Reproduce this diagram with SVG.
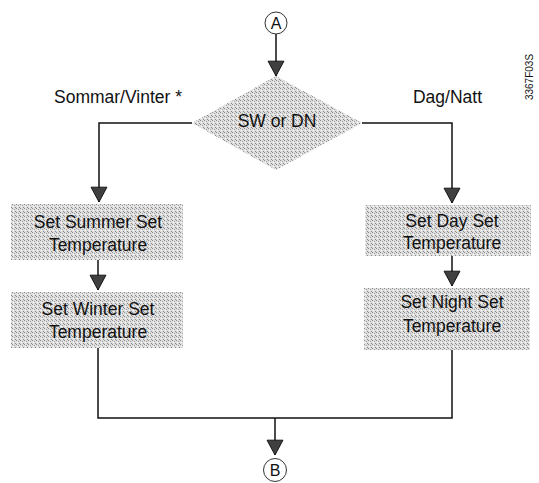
<svg xmlns="http://www.w3.org/2000/svg" width="539" height="483" viewBox="0 0 539 483">
  <defs>
    <pattern id="stipple" width="4" height="4" patternUnits="userSpaceOnUse">
      <rect width="4" height="4" fill="#dedede"/>
      <rect x="0" y="0" width="1" height="1" fill="#8e8e8e"/>
      <rect x="2" y="1" width="1" height="1" fill="#a0a0a0"/>
      <rect x="1" y="2" width="1" height="1" fill="#ffffff"/>
      <rect x="3" y="3" width="1" height="1" fill="#888888"/>
    </pattern>
    <marker id="arrow" markerUnits="userSpaceOnUse" markerWidth="17" markerHeight="18" viewBox="-1 -8.5 16 17" refX="14" refY="0" orient="auto">
      <path d="M0,-7.5 L14,0 L0,7.5 Z" fill="#404040" stroke="#111" stroke-width="0.9"/>
    </marker>
  </defs>
  <style>
    .fill { fill: url(#stipple); stroke: none; }
    .lbl { font-family: "Liberation Sans", Arial, sans-serif; font-size: 17.5px; fill: #111; text-anchor: middle; }
    .side { font-family: "Liberation Sans", Arial, sans-serif; font-size: 17.5px; fill: #111; }
    .conn { fill: none; stroke: #111; stroke-width: 1.5; }
    .circ { fill: #fff; stroke: #333; stroke-width: 1; }
    .circ-t { font-family: "Liberation Sans", Arial, sans-serif; font-size: 16px; fill: #111; text-anchor: middle; }
  </style>
  <rect width="539" height="483" fill="#fff"/>

  <g id="connectors">
    <path class="conn" d="M276,34 V76" marker-end="url(#arrow)"/>
    <path class="conn" d="M192,123 H99 V202" marker-end="url(#arrow)"/>
    <path class="conn" d="M362,123 H452 V203" marker-end="url(#arrow)"/>
    <path class="conn" d="M98,260 V290" marker-end="url(#arrow)"/>
    <path class="conn" d="M452,256 V286" marker-end="url(#arrow)"/>
    <path class="conn" d="M98,348 V418 H452 V350"/>
    <path class="conn" d="M275,418 V455" marker-end="url(#arrow)"/>
  </g>

  <g id="connector-A">
    <circle class="circ" cx="276" cy="23" r="11"/>
    <text class="circ-t" x="276" y="29">A</text>
  </g>

  <g id="decision">
    <polygon class="fill" points="276,76 362,123 276,170 192,123"/>
    <text class="lbl" x="277" y="127">SW or DN</text>
  </g>

  <g id="label-sommar">
    <text class="side" x="54" y="103">Sommar/Vinter *</text>
  </g>
  <g id="label-dag">
    <text class="side" x="482" y="103" text-anchor="end">Dag/Natt</text>
  </g>

  <g id="summer">
    <rect class="fill" x="11" y="204" width="172" height="56"/>
    <text class="lbl" x="98" y="228">Set Summer Set</text>
    <text class="lbl" x="98" y="251">Temperature</text>
  </g>
  <g id="winter">
    <rect class="fill" x="11" y="292" width="172" height="56"/>
    <text class="lbl" x="98" y="315">Set Winter Set</text>
    <text class="lbl" x="98" y="338">Temperature</text>
  </g>
  <g id="day">
    <rect class="fill" x="365" y="205" width="166" height="51"/>
    <text class="lbl" x="452" y="227">Set Day Set</text>
    <text class="lbl" x="452" y="249">Temperature</text>
  </g>
  <g id="night">
    <rect class="fill" x="364" y="288" width="166" height="62"/>
    <text class="lbl" x="452" y="308">Set Night Set</text>
    <text class="lbl" x="452" y="332">Temperature</text>
  </g>

  <g id="connector-B">
    <circle class="circ" cx="275" cy="470" r="11.5"/>
    <text class="circ-t" x="275" y="476">B</text>
  </g>

  <g id="figure-code">
    <text font-family="Liberation Sans, Arial, sans-serif" font-size="10" fill="#111" text-anchor="middle" transform="translate(533,77) rotate(-90)">3367F03S</text>
  </g>
</svg>
